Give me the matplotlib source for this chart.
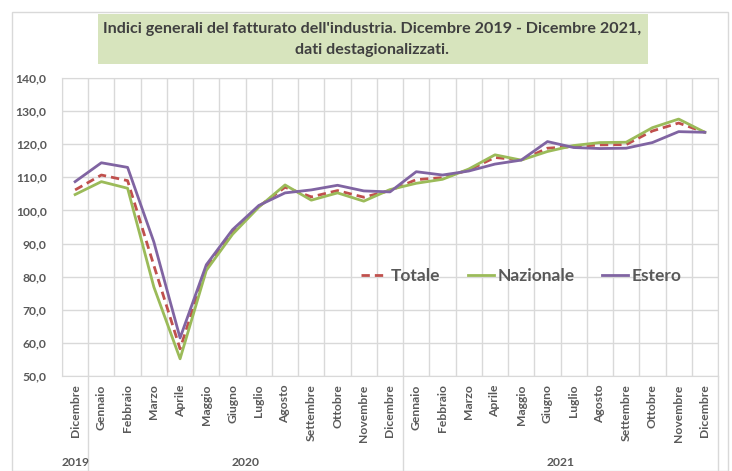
import matplotlib
matplotlib.use("Agg")
import matplotlib.pyplot as plt
from matplotlib.patches import Rectangle

plt.rcParams['font.family'] = ['Lato', 'DejaVu Sans']

# data (Dic 2019 - Dic 2021)
mesi = ['Dicembre',
        'Gennaio', 'Febbraio', 'Marzo', 'Aprile', 'Maggio', 'Giugno',
        'Luglio', 'Agosto', 'Settembre', 'Ottobre', 'Novembre', 'Dicembre',
        'Gennaio', 'Febbraio', 'Marzo', 'Aprile', 'Maggio', 'Giugno',
        'Luglio', 'Agosto', 'Settembre', 'Ottobre', 'Novembre', 'Dicembre']
anni = ['2019', '2020', '2021']
mesi_per_anno = [1, 12, 12]

totale = [106.2, 110.7, 109.0, 83.4, 58.2, 82.9, 93.5, 101.2, 107.0, 104.1,
          106.0, 104.0, 106.0, 109.3, 109.9, 112.2, 116.0, 115.2, 118.8,
          119.3, 119.8, 119.9, 124.0, 126.4, 123.6]
nazionale = [104.8, 108.7, 106.7, 76.9, 55.2, 81.9, 92.8, 101.0, 107.7, 103.1,
             105.3, 102.8, 106.3, 108.2, 109.4, 112.5, 116.8, 115.2, 117.8,
             119.6, 120.5, 120.6, 125.0, 127.6, 123.6]
estero = [108.7, 114.4, 113.0, 90.5, 61.5, 83.6, 94.2, 101.5, 105.3, 106.2,
          107.6, 105.9, 105.6, 111.7, 110.7, 111.9, 114.0, 115.2, 120.8,
          119.0, 118.7, 118.8, 120.5, 123.8, 123.6]

W, H = 732, 471
fig = plt.figure(figsize=(W / 100, H / 100), dpi=100)
grid_c = '#d9d9d9'
txt_c = '#595959'

# chart border
fig.patches.append(Rectangle((12 / W, 0), (728 - 12) / W, (H - 12) / H,
                             transform=fig.transFigure, fill=False,
                             edgecolor=grid_c, lw=1))

# title box
fig.patches.append(Rectangle((98 / W, 1 - 64 / H), 550 / W, 50 / H,
                             transform=fig.transFigure, facecolor='#d7e4bd',
                             edgecolor='none'))
fig.text(372 / W, 1 - 29 / H,
         "Indici generali del fatturato dell'industria. Dicembre 2019 - Dicembre 2021,",
         ha='center', va='center', fontsize=11.6, fontweight='bold', color='#404040')
fig.text(372 / W, 1 - 50 / H, "dati destagionalizzati.",
         ha='center', va='center', fontsize=11.6, fontweight='bold', color='#404040')

left, right, top, bottom = 62, 718, 78, 376
ax = fig.add_axes([left / W, 1 - bottom / H, (right - left) / W, (bottom - top) / H])

x = list(range(len(mesi)))
ax.plot(x, totale, color='#c0504d', lw=2, ls=(0, (3, 1.8)), label='Totale', zorder=3)
ax.plot(x, nazionale, color='#9bbb59', lw=2, label='Nazionale', zorder=3)
ax.plot(x, estero, color='#8064a2', lw=2, label='Estero', zorder=3)

ax.set_xlim(-0.5, len(mesi) - 0.5)
ax.set_ylim(50, 140)
ax.set_yticks(range(50, 141, 10))
ax.set_yticklabels([f'{v},0' for v in range(50, 141, 10)])
ax.set_xticks(x)
ax.set_xticklabels(mesi, rotation=90)
ax.set_xticks([i + 0.5 for i in range(-1, len(mesi))], minor=True)
ax.tick_params(axis='both', which='both', length=0, colors=txt_c)
ax.tick_params(axis='x', pad=6)
ax.tick_params(axis='y', pad=11)
for lab in ax.get_xticklabels() + ax.get_yticklabels():
    lab.set_fontsize(8.7)
    lab.set_fontweight('bold')
    lab.set_color(txt_c)

ax.grid(axis='y', which='major', color=grid_c, lw=1)
ax.grid(axis='x', which='minor', color=grid_c, lw=1)
ax.set_axisbelow(True)
for s in ax.spines.values():
    s.set_color(grid_c)

# year groups below the month labels
drop = -(H - bottom) / (bottom - top)
pos = -0.5
for anno, n in zip(anni, mesi_per_anno):
    ax.text(pos + n / 2, drop + 0.03, anno, transform=ax.get_xaxis_transform(),
            ha='center', va='center', fontsize=8.7, fontweight='bold', color=txt_c)
    pos += n
    ax.plot([pos, pos], [0, drop], transform=ax.get_xaxis_transform(),
            color=grid_c, lw=1, clip_on=False)

leg = ax.legend(loc='center', bbox_to_anchor=(0.70, 0.335), ncol=3, frameon=False,
                fontsize=12.5, handlelength=1.5, handletextpad=0.2,
                columnspacing=1.6)
for t in leg.get_texts():
    t.set_color(txt_c)
    t.set_fontweight('bold')

fig.savefig('out.png', dpi=100)
